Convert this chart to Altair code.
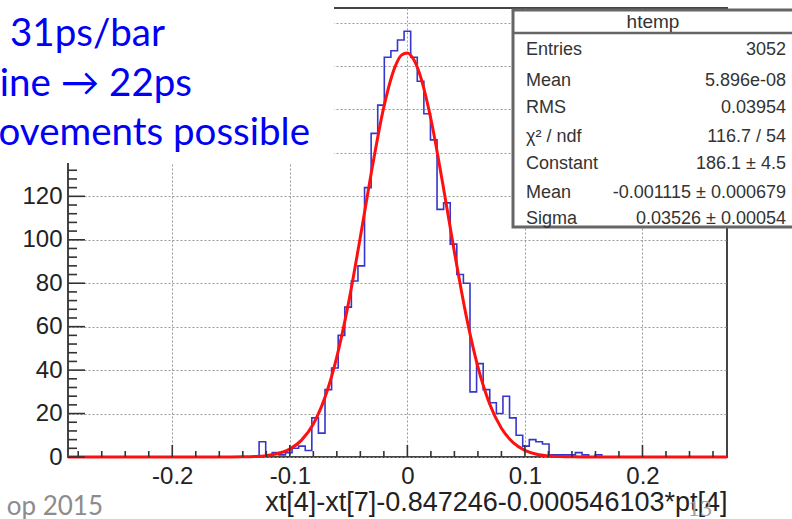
import altair as alt
import pandas as pd

# ---------------- data ----------------
# ROOT histogram "htemp": 100 bins over the axis range
x_min = -0.2887
x_max = 0.2719
n_bins = 100
first_bin = 29  # index of first non-empty bin
counts = [7, 1, 2, 1, 2, 4, 5, 3, 18, 11, 31, 41, 56, 69, 81, 88,
          124, 149, 162, 184, 187, 192, 196,
          184, 173, 158, 146, 114, 117, 98, 84, 80,
          30, 43, 31, 25, 20, 28, 18, 10, 5, 8, 7, 6,
          1, 1, 1, 1, 2, 1, 0, 1]

# red Gaussian fit curve
fit_x = [-0.2887, -0.15, -0.14, -0.13, -0.12, -0.11, -0.10, -0.09, -0.08, -0.07,
         -0.06, -0.05, -0.04, -0.03, -0.02, -0.01, -0.005, 0.0, 0.005, 0.01, 0.02,
         0.03, 0.04, 0.05, 0.06, 0.07, 0.08, 0.09, 0.10, 0.11, 0.12, 0.13, 0.14,
         0.15, 0.2719]
fit_y = [0, 0.02, 0.08, 0.23, 0.63, 1.58, 3.64, 7.76, 15.2, 27.6,
         46.1, 71.1, 101.3, 133.0, 161.2, 180.3, 185.0, 186.0, 183.3, 177.1, 155.6,
         126.1, 94.4, 65.1, 41.5, 24.4, 13.2, 6.6, 3.05, 1.3, 0.51, 0.19, 0.06,
         0.02, 0]

x_tick_labels = [-0.2, -0.1, 0.0, 0.1, 0.2]
x_minor = [-0.28, -0.26, -0.24, -0.22, -0.18, -0.16, -0.14, -0.12, -0.08, -0.06,
           -0.04, -0.02, 0.02, 0.04, 0.06, 0.08, 0.12, 0.14, 0.16, 0.18, 0.22,
           0.24, 0.26]
y_tick_labels = [0, 20, 40, 60, 80, 100, 120, 140, 160, 180, 200]
y_minor = [4, 8, 12, 16, 24, 28, 32, 36, 44, 48, 52, 56, 64, 68, 72, 76, 84, 88,
           92, 96, 104, 108, 112, 116, 124, 128, 132, 136, 144, 148, 152, 156,
           164, 168, 172, 176, 184, 188, 192, 196, 204]

stats_title = "htemp"
stats_labels = ["Entries", "Mean", "RMS", "\u03c7\u00b2 / ndf", "Constant", "Mean", "Sigma"]
stats_values = ["3052", "5.896e-08", "0.03954", "116.7 / 54", "186.1 \u00b1 4.5",
                "-0.001115 \u00b1 0.000679", "0.03526 \u00b1 0.00054"]

slide_lines = ["31ps/bar", "ine \u2192 22ps", "ovements possible"]
footer_left = "op 2015"
page_number = "13"
x_title = "xt[4]-xt[7]-0.847246-0.000546103*pt[4]"

# ---------------- build tables ----------------
bw = (x_max - x_min) / n_bins
full = [0] * first_bin + counts + [0] * (n_bins - first_bin - len(counts))
hist_df = pd.DataFrame({
    "x": [x_min + k * bw for k in range(n_bins)] + [x_max],
    "count": full + [full[-1]],
})
fit_df = pd.DataFrame({"x": fit_x, "y": fit_y})
one = pd.DataFrame({"o": [0]})

W, H = 659, 449
xs = alt.Scale(domain=[x_min, x_max], nice=False, zero=False)
ys = alt.Scale(domain=[0, 206.7], nice=False, zero=True)

FONT = "Liberation Sans"
x_axis = alt.Axis(
    values=x_tick_labels, grid=True, gridDash=[2, 2], gridColor="#999999", gridWidth=1,
    ticks=False, tickSize=0, domain=False, labelFont=FONT, labelFontSize=24,
    labelColor="#222222", labelPadding=7,
    labelExpr="datum.value === 0 ? '0' : replace(format(datum.value, '.1f'), '\u2212', '-')",
    title=x_title, titleFont=FONT, titleFontSize=27, titleFontWeight="normal",
    titleColor="#222222", titleAlign="right", titleBaseline="alphabetic",
    titleX=W, titleY=53, zindex=0,
)
y_axis = alt.Axis(
    values=y_tick_labels, grid=True, gridDash=[2, 2], gridColor="#999999", gridWidth=1,
    ticks=False, tickSize=0, domain=False, labelFont=FONT, labelFontSize=24,
    labelColor="#222222", labelPadding=6, title=None, zindex=0,
    labelExpr="datum.value > 120 ? '' : datum.label",
)

hist = alt.Chart(hist_df).mark_line(
    interpolate="step-after", color="#3636cc", strokeWidth=1.6
).encode(
    x=alt.X("x:Q", scale=xs, axis=x_axis),
    y=alt.Y("count:Q", scale=ys, axis=y_axis),
)

fit = alt.Chart(fit_df).mark_line(
    interpolate="monotone", color="#ff1010", strokeWidth=3
).encode(
    x=alt.X("x:Q", scale=xs),
    y=alt.Y("y:Q", scale=ys),
)


def xticks(vals, length):
    return alt.Chart(pd.DataFrame({"v": vals})).mark_rule(
        color="#333333", strokeWidth=1.6
    ).encode(x=alt.X("v:Q", scale=xs), y=alt.value(H), y2=alt.value(H - length))


def yticks(vals, length):
    return alt.Chart(pd.DataFrame({"v": vals})).mark_rule(
        color="#333333", strokeWidth=1.6
    ).encode(y=alt.Y("v:Q", scale=ys), x=alt.value(0), x2=alt.value(length))


def txt(s, x, y, **kw):
    return alt.Chart(one).mark_text(**kw).encode(
        x=alt.value(x), y=alt.value(y), text=alt.value(s)
    )


def box(x1, x2, y1, y2, **kw):
    return alt.Chart(one).mark_rect(**kw).encode(
        x=alt.value(x1), x2=alt.value(x2), y=alt.value(y1), y2=alt.value(y2)
    )


layers = [
    hist, fit,
    xticks(x_tick_labels, 12), xticks(x_minor, 6),
    yticks(y_tick_labels, 17), yticks(y_minor, 9),
    # slide text box (covers top-left of the plot)
    box(-70, 266, -10, 155, color="white"),
]

slide_x = [97, 124, 242]
slide_y = [38, 88, 137]
for s, sx, sy in zip(slide_lines, slide_x, slide_y):
    layers.append(txt(s, sx, sy, align="right", baseline="alphabetic",
                      font="Lato", fontSize=38.5, color="#0000f5"))

# statistics box
layers.append(box(445, 740, 2, 219, fill="white", stroke="#666666", strokeWidth=3))
layers.append(alt.Chart(one).mark_rule(color="#666666", strokeWidth=2.5).encode(
    x=alt.value(445), x2=alt.value(740), y=alt.value(25)))
layers.append(txt(stats_title, 585, 14, align="center", baseline="middle",
                  font=FONT, fontSize=19, color="#333333"))
row_y = [42, 73, 100, 129, 156, 185, 211]
for lab, val, ry in zip(stats_labels, stats_values, row_y):
    layers.append(txt(lab, 458, ry, align="left", baseline="middle",
                      font=FONT, fontSize=18, color="#333333"))
    layers.append(txt(val, 718, ry, align="right", baseline="middle",
                      font=FONT, fontSize=18, color="#333333"))

# slide footer
layers.append(txt(footer_left, 35, 507, align="right", baseline="alphabetic",
                  font="Lato", fontSize=26, color="#8c8c8c"))
layers.append(txt(page_number, 632, 508, align="center", baseline="alphabetic",
                  font="Liberation Serif", fontSize=24, color="#a0a0a0"))

chart = alt.layer(*layers).properties(
    width=W, height=H,
    padding={"left": 68, "top": 8, "right": 65, "bottom": 62},
    autosize=alt.AutoSizeParams(type="none"),
    background="white",
).configure_view(stroke="#444444", strokeWidth=2)

chart.save("out.html", embed_options={"renderer": "svg", "actions": False})
